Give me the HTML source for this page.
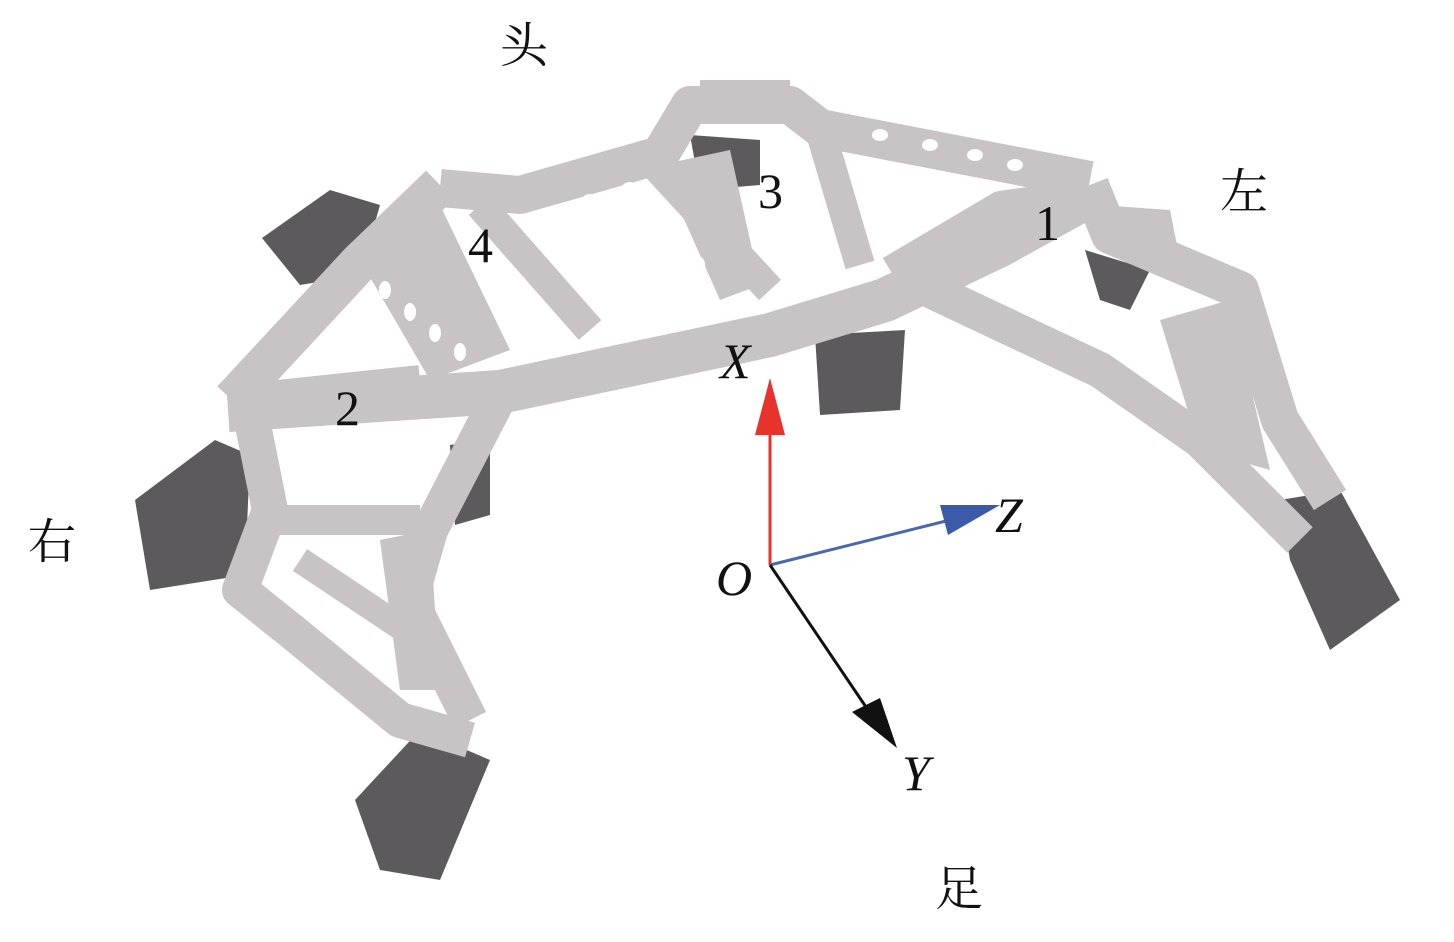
<!DOCTYPE html>
<html><head><meta charset="utf-8"><style>
html,body{margin:0;padding:0;background:#fff;}
svg{display:block;}
text{font-family:"Liberation Serif","Noto Serif CJK SC",serif;fill:#111;}
</style></head><body>
<svg width="1454" height="942" viewBox="0 0 1454 942" xmlns="http://www.w3.org/2000/svg">
<defs>
<marker id="ar" markerWidth="10" markerHeight="10" refX="8" refY="5" orient="auto" markerUnits="userSpaceOnUse"></marker>
</defs>
<g fill="#5d5a5d">
<polygon points="262,238 330,190 380,205 360,275 300,285"/>
<polygon points="690,135 760,140 760,185 700,190"/>
<polygon points="135,500 215,440 250,455 245,575 150,590"/>
<polygon points="355,800 420,730 490,760 440,880 380,870"/>
<polygon points="1280,500 1340,490 1400,600 1330,650 1290,560"/>
<polygon points="815,335 905,330 900,410 820,415"/>
<polygon points="450,445 490,440 490,515 455,525"/>
<polygon points="1085,250 1150,270 1130,310 1100,300"/>
</g>
<g fill="none" stroke="#c8c4c6" stroke-linejoin="round" stroke-linecap="butt">
<polyline stroke-width="38" points="440,188 520,195 660,155 690,105 790,105 820,128 1090,180"/>
<polyline stroke-width="40" points="440,185 360,262 232,400"/>
<polyline stroke-width="44" points="228,410 500,392 770,335 885,300 1000,245 1090,195"/>
<polyline stroke-width="38" points="1090,185 1110,235 1240,290 1280,420 1330,500"/>
<polyline stroke-width="36" points="930,290 1100,370 1200,440 1300,540"/>
<polyline stroke-width="36" points="250,410 270,510 240,590 290,630 400,720 470,740"/>
<polyline stroke-width="36" points="500,395 430,530 410,600 470,720"/>
<polyline stroke-width="30" points="280,520 420,520"/>
<polyline stroke-width="30" points="230,400 420,380"/>
<polyline stroke-width="30" points="480,205 590,330"/>
<polyline stroke-width="30" points="650,160 770,290"/>
<polyline stroke-width="30" points="820,130 860,265"/>
<polyline stroke-width="28" points="890,270 1000,205 1070,195"/>
<polyline stroke-width="26" points="1240,300 1240,440"/>
<polyline stroke-width="26" points="300,560 420,640"/>
</g>
<g fill="#c8c4c6">
<polygon points="360,260 440,205 510,350 430,380"/>
<polygon points="660,165 730,150 760,285 720,300"/>
<polygon points="700,80 790,80 790,110 700,110"/>
<polygon points="1100,205 1170,210 1180,260 1110,250"/>
<polygon points="1160,320 1230,300 1270,470 1200,450"/>
<polygon points="380,540 430,530 440,690 400,690"/>
</g>
<g fill="#fff">
<ellipse cx="385" cy="290" rx="6" ry="9"/><ellipse cx="410" cy="312" rx="6" ry="9"/><ellipse cx="435" cy="333" rx="6" ry="9"/><ellipse cx="460" cy="352" rx="6" ry="9"/>
<ellipse cx="880" cy="135" rx="8" ry="6"/><ellipse cx="930" cy="145" rx="8" ry="6"/><ellipse cx="975" cy="155" rx="8" ry="6"/><ellipse cx="1015" cy="165" rx="8" ry="6"/>
<ellipse cx="545" cy="215" rx="8" ry="6"/><ellipse cx="590" cy="200" rx="8" ry="6"/><ellipse cx="630" cy="188" rx="8" ry="6"/>
<ellipse cx="670" cy="215" rx="5" ry="8"/><ellipse cx="685" cy="240" rx="5" ry="8"/><ellipse cx="700" cy="265" rx="5" ry="8"/>
</g>
<line x1="770" y1="565" x2="770" y2="432" stroke="#e8322c" stroke-width="3"/>
<polygon points="770,378 755,435 785,435" fill="#e8322c"/>
<line x1="770" y1="565" x2="950" y2="520" stroke="#4a68b0" stroke-width="3"/>
<polygon points="1000,505 940,505 948,535" fill="#3c5aa8"/>
<line x1="770" y1="565" x2="868" y2="710" stroke="#111" stroke-width="3"/>
<polygon points="897,748 852,712 880,698" fill="#111"/>
<g font-size="50">
<text x="500" y="62" font-size="48">头</text>
<text x="1220" y="208" font-size="48">左</text>
<text x="28" y="558" font-size="48">右</text>
<text x="935" y="905" font-size="48">足</text>
<text x="1035" y="240">1</text>
<text x="335" y="425">2</text>
<text x="758" y="208">3</text>
<text x="468" y="262">4</text>
<text x="720" y="378" font-style="italic">X</text>
<text x="995" y="532" font-style="italic">Z</text>
<text x="716" y="595" font-style="italic">O</text>
<text x="902" y="790" font-style="italic">Y</text>
</g>
</svg>
</body></html>
